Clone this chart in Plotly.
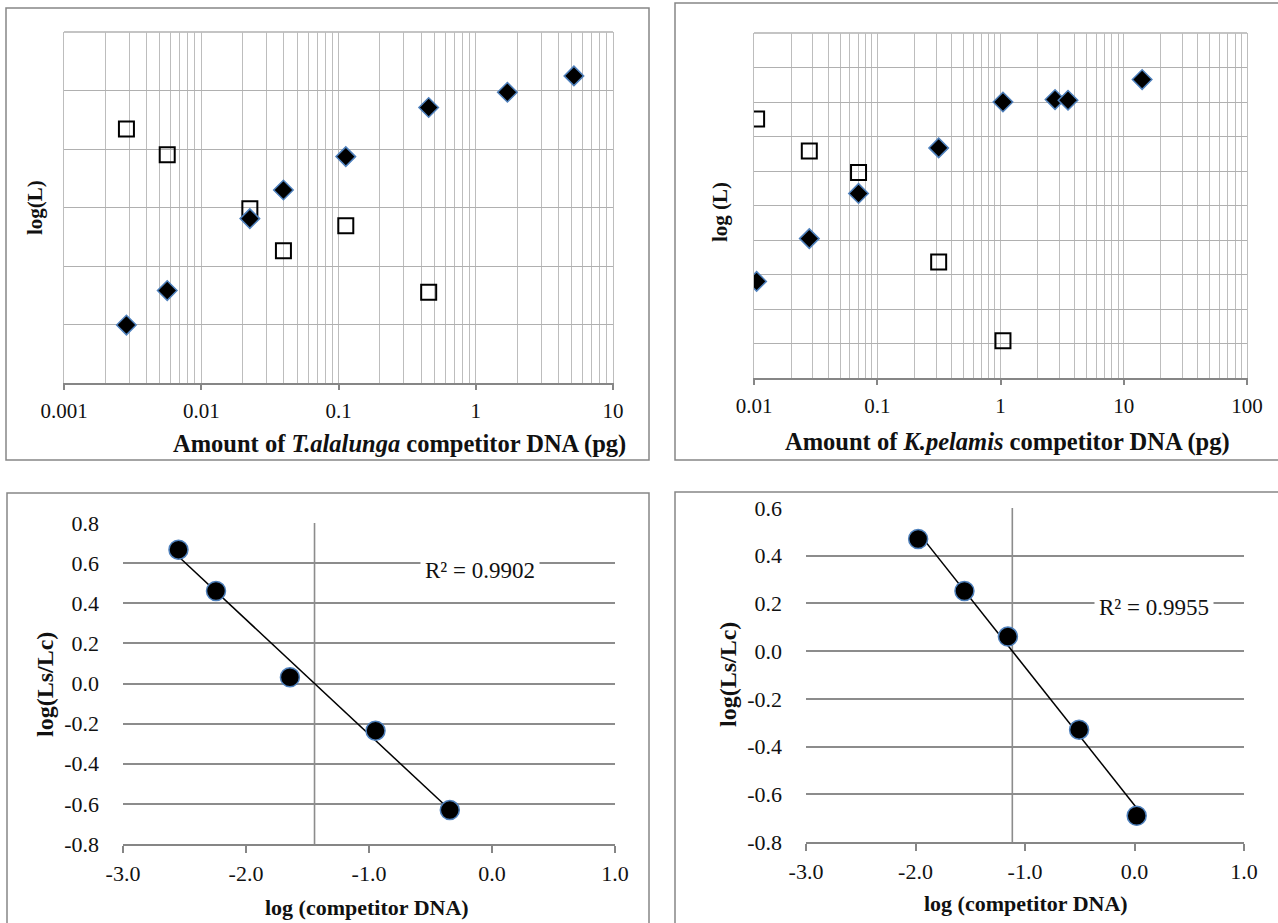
import numpy as np
import plotly.graph_objects as go

W, H = 1278, 923
FONT = "Liberation Serif, Times New Roman, serif"
INK = "#111111"
BLUE_EDGE = "#4f81bd"
GRID_LIGHT = "#bdbdbd"
GRID_DARK = "#8c8c8c"
AXIS_LINE = "#868686"

# ---- T. alalunga competitive PCR (band intensities, log scale) ----
ta_amount = [0.00285, 0.00565, 0.0226, 0.0397, 0.113, 0.454, 1.70, 5.19]
ta_log_competitor = [2.198, 2.316, 2.562, 2.660, 2.774, 2.942, 2.994, 3.050]
ta_amount_target = [0.00285, 0.00565, 0.0226, 0.0397, 0.113, 0.454]
ta_log_target = [2.868, 2.780, 2.596, 2.452, 2.538, 2.310]

# ---- K. pelamis competitive PCR ----
kp_amount = [0.0105, 0.0281, 0.0705, 0.315, 1.047, 2.77, 3.53, 14.1]
kp_log_competitor = [3.280, 3.404, 3.535, 3.667, 3.800, 3.807, 3.805, 3.865]
kp_amount_target = [0.0105, 0.0281, 0.0705, 0.315, 1.047]
kp_log_target = [3.751, 3.658, 3.596, 3.336, 3.108]

# ---- log(Ls/Lc) against log(competitor DNA) ----
ta_log_dna = [-2.549, -2.244, -1.643, -0.947, -0.343]
ta_log_ratio = [0.667, 0.461, 0.031, -0.235, -0.631]
kp_log_dna = [-1.976, -1.553, -1.156, -0.506, 0.020]
kp_log_ratio = [0.470, 0.252, 0.061, -0.329, -0.690]
r2_labels = ["R² = 0.9902", "R² = 0.9955"]

# ---- tick labels ----
ta_ticks = [0.001, 0.01, 0.1, 1, 10]
ta_ticktext = ["0.001", "0.01", "0.1", "1", "10"]
kp_ticks = [0.01, 0.1, 1, 10, 100]
kp_ticktext = ["0.01", "0.1", "1", "10", "100"]
ratio_x_ticks = [-3, -2, -1, 0, 1]
ratio_x_text = ["-3.0", "-2.0", "-1.0", "0.0", "1.0"]
ta_ratio_y_ticks = [-0.8, -0.6, -0.4, -0.2, 0.0, 0.2, 0.4, 0.6, 0.8]
kp_ratio_y_ticks = [-0.8, -0.6, -0.4, -0.2, 0.0, 0.2, 0.4, 0.6]
ta_level_grid = [2.0, 2.2, 2.4, 2.6, 2.8, 3.0, 3.2]
kp_level_grid = [3.0, 3.1, 3.2, 3.3, 3.4, 3.5, 3.6, 3.7, 3.8, 3.9, 4.0]


def xdom(left, right):
    return [left / W, right / W]


def ydom(top, bottom):
    return [1 - bottom / H, 1 - top / H]


def fmt(v):
    return f"{v:.1f}"


fig = go.Figure()

diamond = dict(symbol="diamond", size=15, color="black",
               line=dict(color=BLUE_EDGE, width=1.5))
square = dict(symbol="square-open", size=15, color="black",
              line=dict(color="black", width=2))
dot = dict(symbol="circle", size=19, color="black",
           line=dict(color=BLUE_EDGE, width=1.5))

# top-left panel
fig.add_trace(go.Scatter(x=ta_amount_target, y=ta_log_target, mode="markers",
                         marker=square, xaxis="x", yaxis="y", showlegend=False))
fig.add_trace(go.Scatter(x=ta_amount, y=ta_log_competitor, mode="markers",
                         marker=diamond, xaxis="x", yaxis="y", showlegend=False))
# top-right panel
fig.add_trace(go.Scatter(x=kp_amount_target, y=kp_log_target, mode="markers",
                         marker=square, xaxis="x2", yaxis="y2", showlegend=False))
fig.add_trace(go.Scatter(x=kp_amount, y=kp_log_competitor, mode="markers",
                         marker=diamond, xaxis="x2", yaxis="y2", showlegend=False))

# bottom panels with least-squares trend lines
crossings = []
for xs, ys, xa, ya in [(ta_log_dna, ta_log_ratio, "x3", "y3"),
                       (kp_log_dna, kp_log_ratio, "x4", "y4")]:
    slope, icpt = np.polyfit(xs, ys, 1)
    ends = np.array([min(xs), max(xs)])
    fig.add_trace(go.Scatter(x=ends, y=slope * ends + icpt, mode="lines",
                             line=dict(color="black", width=1.5),
                             xaxis=xa, yaxis=ya, showlegend=False))
    fig.add_trace(go.Scatter(x=xs, y=ys, mode="markers", marker=dot,
                             xaxis=xa, yaxis=ya, showlegend=False))
    crossings.append(-icpt / slope)

top_tickfont = dict(family=FONT, size=21, color=INK)
low_tickfont = dict(family=FONT, size=22, color=INK)

log_x = dict(type="log", showgrid=True, gridcolor=GRID_LIGHT, gridwidth=1,
             minor=dict(dtick="D1", showgrid=True, gridcolor=GRID_LIGHT, gridwidth=1,
                        ticks=""),
             showline=True, linecolor=AXIS_LINE, linewidth=1.5,
             ticks="outside", ticklen=5, tickcolor=AXIS_LINE, tickwidth=1.5,
             tickfont=top_tickfont, zeroline=False, ticklabelstandoff=3,
             automargin=False)
level_y = dict(showticklabels=False, ticks="", showgrid=True,
               gridcolor="#b0b0b0", gridwidth=1.3, zeroline=False,
               showline=True, linecolor=GRID_LIGHT, linewidth=1, mirror=True,
               automargin=False)

ratio_x = dict(range=[-3, 1], tickvals=ratio_x_ticks, ticktext=ratio_x_text,
               showgrid=False, zeroline=False, showline=True,
               linecolor=AXIS_LINE, linewidth=2, ticks="outside", ticklen=7,
               tickcolor=AXIS_LINE, tickwidth=2, tickfont=low_tickfont,
               ticklabelstandoff=2, automargin=False)
ratio_y = dict(showgrid=True, gridcolor=GRID_DARK, gridwidth=1.6,
               zeroline=False, showline=False, ticks="", tickfont=low_tickfont,
               ticklabelstandoff=23, automargin=False)

fig.update_layout(
    width=W, height=H, margin=dict(l=0, r=0, t=0, b=0, pad=0, autoexpand=False),
    autosize=False,
    paper_bgcolor="white", plot_bgcolor="white",
    font=dict(family=FONT, color=INK),
    xaxis=dict(log_x, range=[-3, 1], tickvals=ta_ticks, ticktext=ta_ticktext,
               domain=xdom(64, 613), anchor="y"),
    yaxis=dict(level_y, range=[2.0, 3.2], tickvals=ta_level_grid,
               domain=ydom(32, 383), anchor="x"),
    xaxis2=dict(log_x, range=[-2, 2], tickvals=kp_ticks, ticktext=kp_ticktext,
                domain=xdom(754, 1247), anchor="y2"),
    yaxis2=dict(level_y, range=[3.0, 4.0], tickvals=kp_level_grid,
                domain=ydom(33, 378), anchor="x2"),
    xaxis3=dict(ratio_x, domain=xdom(123, 615), anchor="y3"),
    yaxis3=dict(ratio_y, range=[-0.8, 0.8], tickvals=ta_ratio_y_ticks,
                ticktext=[fmt(v) for v in ta_ratio_y_ticks],
                domain=ydom(523, 844), anchor="x3"),
    xaxis4=dict(ratio_x, domain=xdom(806, 1244), anchor="y4"),
    yaxis4=dict(ratio_y, range=[-0.8, 0.6], tickvals=kp_ratio_y_ticks,
                ticktext=[fmt(v) for v in kp_ratio_y_ticks],
                domain=ydom(508, 842), anchor="x4"),
)

# top edge of the log-scale grids
for xa, ya in [("x", "y"), ("x2", "y2")]:
    fig.add_shape(type="line", xref=f"{xa} domain", yref=f"{ya} domain",
                  x0=0, x1=1, y0=1, y1=1, line=dict(color="#b0b0b0", width=1.3),
                  layer="below")

# vertical axes crossing at the equivalence point of each fit
for xc, xa, ya in [(crossings[0], "x3", "y3"), (crossings[1], "x4", "y4")]:
    fig.add_shape(type="line", xref=xa, yref=f"{ya} domain", x0=xc, x1=xc,
                  y0=0, y1=1, line=dict(color=GRID_DARK, width=1.6), layer="below")

# chart-area frames
frames = [(6, 8, 649, 460), (675, 3, 1290, 460), (7, 493, 649, 940), (675, 492, 1290, 940)]
for l, t, r, b in frames:
    fig.add_shape(type="rect", xref="paper", yref="paper",
                  x0=l / W, x1=r / W, y0=1 - b / H, y1=1 - t / H,
                  line=dict(color=AXIS_LINE, width=1.5), fillcolor="rgba(0,0,0,0)")


def label(text, px, py, size, angle=0, bold=True):
    fig.add_annotation(text=f"<b>{text}</b>" if bold else text,
                       x=px / W, y=1 - py / H, xref="paper", yref="paper",
                       showarrow=False, textangle=angle,
                       font=dict(family=FONT, size=size, color=INK),
                       xanchor="center", yanchor="middle")


label("Amount of <i>T.alalunga</i> competitor DNA (pg)", 399, 444, 24.5)
label("Amount of <i>K.pelamis</i> competitor DNA (pg)", 1007, 442, 24.5)
label("log(L)", 35, 208, 21, angle=-90)
label("log (L)", 720, 212, 21, angle=-90)
label("log (competitor DNA)", 367, 907, 22)
label("log (competitor DNA)", 1026, 903, 22)
label("log(Ls/Lc)", 45, 685, 24, angle=-90)
label("log(Ls/Lc)", 728, 675, 24, angle=-90)

# R² of each regression, boxed in white over the grid
for text, xa, ya, xv, yv in [(r2_labels[0], "x3", "y3", -0.1, 0.565),
                             (r2_labels[1], "x4", "y4", 0.18, 0.185)]:
    fig.add_annotation(text=text, x=xv, y=yv, xref=xa, yref=ya, showarrow=False,
                       bgcolor="white", borderpad=4,
                       font=dict(family=FONT, size=23, color=INK))

fig.write_html("out.html")
